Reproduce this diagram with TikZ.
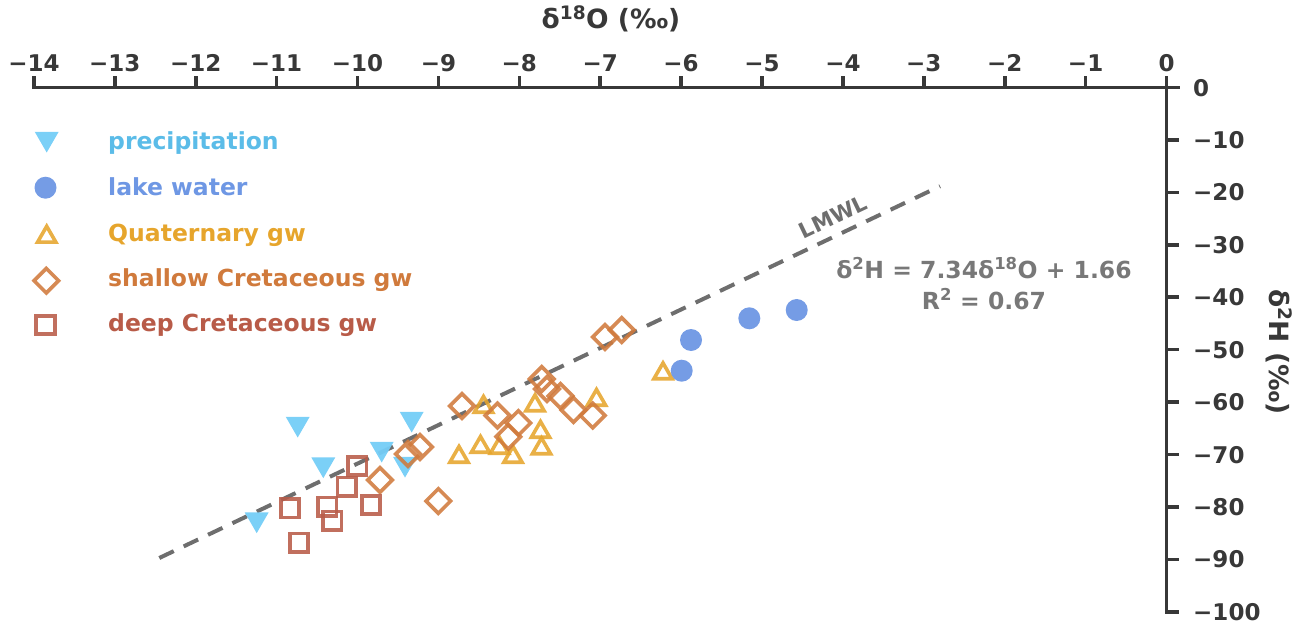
\documentclass[tikz,border=0pt]{standalone}
\usepackage{fontspec}
\setmainfont{DejaVu Sans}
\usetikzlibrary{shapes.geometric}
\definecolor{axisc}{HTML}{383838}
\definecolor{precipc}{HTML}{74CDF7}
\definecolor{preciptxt}{HTML}{5BBCE8}
\definecolor{lakec}{HTML}{6E97E4}
\definecolor{quatc}{HTML}{E6A52C}
\definecolor{shallowc}{HTML}{D07A3C}
\definecolor{deepc}{HTML}{B85B48}
\definecolor{lmwlc}{HTML}{6E6E6E}
\definecolor{eqc}{HTML}{787878}
\begin{document}
\begin{tikzpicture}[x=1pt,y=-1pt,
  axisline/.style={draw=axisc,line width=3.6pt,line cap=rect},
  tickline/.style={draw=axisc,line width=3.6pt},
  ticklab/.style={text=axisc,font=\fontsize{23}{28}\selectfont\bfseries,inner sep=0pt},
  axtitle/.style={text=axisc,font=\fontsize{26.5}{30}\selectfont\bfseries,inner sep=0pt},
  legtxt/.style={font=\fontsize{23.5}{28}\selectfont\bfseries,inner sep=0pt,anchor=base west},
  precipm/.style={regular polygon,regular polygon sides=3,shape border rotate=180,
    fill=precipc,fill opacity=0.95,draw=none,minimum size=27.7pt,inner sep=0pt},
  lakem/.style={circle,fill=lakec,fill opacity=0.95,draw=none,minimum size=22pt,inner sep=0pt},
  quatm/.style={regular polygon,regular polygon sides=3,draw=quatc,draw opacity=0.88,
    line width=3.6pt,minimum size=21pt,inner sep=0pt},
  shallowm/.style={diamond,aspect=1,draw=shallowc,draw opacity=0.88,line width=3.6pt,
    minimum width=26pt,minimum height=26pt,inner sep=0pt},
  deepm/.style={rectangle,draw=deepc,draw opacity=0.88,line width=3.6pt,
    minimum size=18.5pt,inner sep=0pt},
  lmwl/.style={draw=lmwlc,line width=4pt,dash pattern=on 16pt off 11pt},
  eqtxt/.style={text=eqc,font=\fontsize{23.5}{28}\selectfont\bfseries,inner sep=0pt}
]
\useasboundingbox (0,0) rectangle (1300,626);

% axes
\coordinate (O) at (1166.5,87.5);
\coordinate (XL) at (33.9,87.5);
\coordinate (XR) at (1178.5,87.5);
\coordinate (YB) at (1166.5,611.8);
\draw[axisline] (XL) -- (XR);
\draw[axisline] (O) -- (YB);
\foreach \v in {-14,...,0}{
  \coordinate (xt\v) at ({1166.5+80.9*\v},87.5);
  \draw[tickline] (xt\v) -- ++(0,-12);
  \node[ticklab,anchor=base] (xl\v) at ({1166.5+80.9*\v},71.5)
    {\ifnum\v<0 −\the\numexpr-\v\relax\else 0\fi};
}
\foreach \v in {0,-10,...,-100}{
  \coordinate (yt\v) at (1166.5,{87.5-5.243*\v});
  \draw[tickline] (yt\v) -- ++(12,0);
  \node[ticklab,anchor=base west] (yl\v) at (1193,{87.5-5.243*\v+8.5})
    {\ifnum\v<0 −\the\numexpr-\v\relax\else 0\fi};
}
\node[axtitle] (xtitle) at (611,19) {δ\textsuperscript{18}O (‰)};
\node[axtitle,rotate=-90] (ytitle) at (1279,352) {δ\textsuperscript{2}H (‰)};

% LMWL
\coordinate (L1) at (159.3,558);
\coordinate (L2) at (940,186.2);
\draw[lmwl] (L1) -- (L2);
\node[text=lmwlc,font=\fontsize{21.5}{25}\selectfont\bfseries,rotate=25.46,anchor=south,inner sep=10pt]
  (lmwllab) at (841,233.3) {LMWL};
\node[eqtxt] (eq1) at (984,268) {δ\textsuperscript{2}H = 7.34δ\textsuperscript{18}O + 1.66};
\node[eqtxt] (eq2) at (984,299) {R\textsuperscript{2} = 0.67};

% precipitation
\foreach \i/\px/\py in {1/297.7/423.7,2/323.3/464.3,3/411.7/418.7,4/381.7/448.7,5/405/463.7,6/256.7/519.3}
  \node[precipm] (p\i) at (\px,\py) {};
% Quaternary gw
\foreach \i/\px/\py in {1/483.5/407,2/535/405.5,3/596.5/400,4/540.5/432,5/541.5/448.5,6/480.5/447,7/499.5/448,8/513/457,9/459/457,10/663/373.5}
  \node[quatm] (q\i) at (\px,\py) {};
% shallow Cretaceous gw
\foreach \i/\px/\py in {1/380/480,2/408/454,3/420/447,4/438.3/501,5/462/406,6/497.5/415.5,7/518.3/423,8/508.3/436.7,9/541.7/379,10/547/389,11/560.5/396,12/573.5/410,13/592.7/415.5,14/605/337,15/621.7/330}
  \node[shallowm] (s\i) at (\px,\py) {};
% deep Cretaceous gw
\foreach \i/\px/\py in {1/357.3/466,2/346.7/486.7,3/327.3/506.7,4/290/508.3,5/332.3/520.7,6/371/505,7/299/542.7}
  \node[deepm] (d\i) at (\px,\py) {};
% lake water
\foreach \i/\px/\py in {1/691/340,2/681.7/370.7,3/749.3/318.3,4/796.7/310}
  \node[lakem] (l\i) at (\px,\py) {};

% legend
\node[precipm] (lgp) at (46.7,138.7) {};
\node[legtxt,text=preciptxt] (lgpt) at (108,149.5) {precipitation};
\node[lakem] (lgl) at (45.5,187.7) {};
\node[legtxt,text=lakec] (lglt) at (108,195.5) {lake water};
\node[quatm] (lgq) at (46.7,236.8) {};
\node[legtxt,text=quatc] (lgqt) at (108,241) {Quaternary gw};
\node[shallowm] (lgs) at (46.3,280.7) {};
\node[legtxt,text=shallowc] (lgst) at (108,286.5) {shallow Cretaceous gw};
\node[deepm] (lgd) at (45.5,325) {};
\node[legtxt,text=deepc] (lgdt) at (108,331.5) {deep Cretaceous gw};
\end{tikzpicture}
\end{document}
